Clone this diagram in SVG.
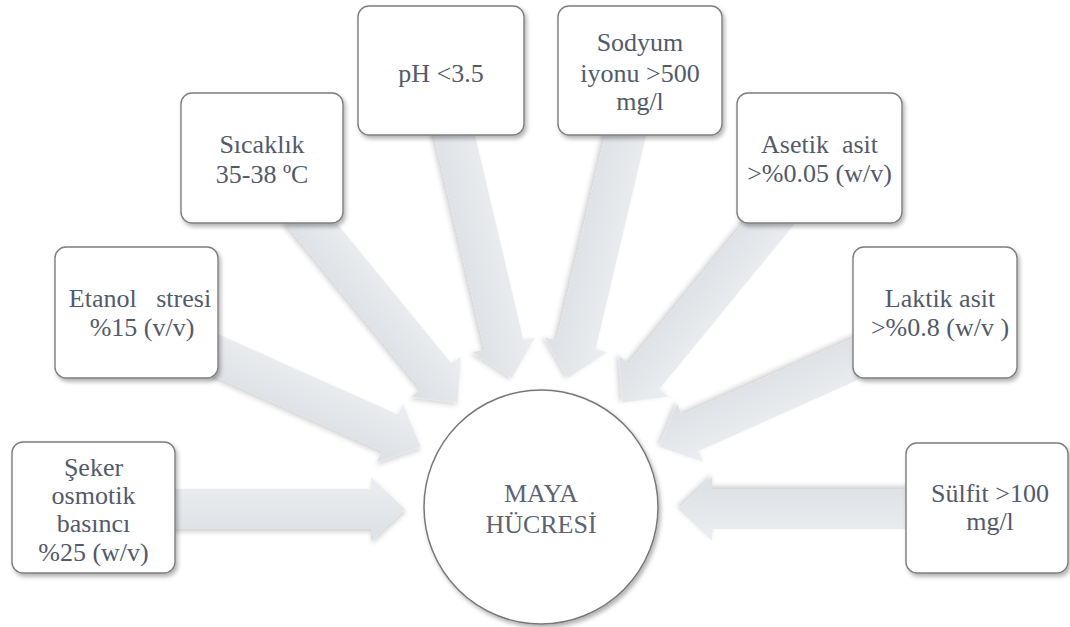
<svg xmlns="http://www.w3.org/2000/svg" width="1070" height="627" viewBox="0 0 1070 627">
<defs>
<linearGradient id="ag" x1="0" y1="0" x2="0" y2="1">
<stop offset="0" stop-color="#eceef1"/>
<stop offset="1" stop-color="#dcdfe3"/>
</linearGradient>
<filter id="sh" x="-20%" y="-20%" width="140%" height="140%">
<feDropShadow dx="2" dy="3" stdDeviation="2" flood-color="#000" flood-opacity="0.3"/>
</filter>
<filter id="ash" x="-20%" y="-40%" width="140%" height="180%">
<feDropShadow dx="1" dy="3" stdDeviation="2.5" flood-color="#000" flood-opacity="0.18"/>
</filter>
</defs>
<style>
.box{fill:#fff;stroke:#7e7e7e;stroke-width:1.4;filter:url(#sh)}
.arr{fill:url(#ag);filter:url(#ash)}
text{font-family:'Liberation Serif','Times New Roman',serif;font-size:26px;fill:#525a6b;text-anchor:middle;white-space:pre}
.c{fill:#fff;stroke:#777;stroke-width:1.5;filter:url(#sh)}
</style>
<rect width="1070" height="627" fill="#fff"/>
<g id="connectors">
<path class="arr" transform="translate(170,509)" d="M0,-20 H201 V-32 L235,0 L201,32 V20 H0 Z"/>
<path class="arr" transform="translate(910,509) rotate(180)" d="M0,-20 H198 V-32 L232,0 L198,32 V20 H0 Z"/>
<path class="arr" transform="translate(200,348) rotate(24.1)" d="M0,-20 H208 V-32 L242,0 L208,32 V20 H0 Z"/>
<path class="arr" transform="translate(880,348) rotate(155.9)" d="M0,-20 H208 V-32 L242,0 L208,32 V20 H0 Z"/>
<path class="arr" transform="translate(300,210) rotate(50.7)" d="M0,-20 H215 V-32 L249,0 L215,32 V20 H0 Z"/>
<path class="arr" transform="translate(780,210) rotate(129.3)" d="M0,-20 H215 V-32 L249,0 L215,32 V20 H0 Z"/>
<path class="arr" transform="translate(452,125) rotate(76.7)" d="M0,-20 H226 V-32 L260,0 L226,32 V20 H0 Z"/>
<path class="arr" transform="translate(628,125) rotate(103.3)" d="M0,-20 H226 V-32 L260,0 L226,32 V20 H0 Z"/>
</g>
<g id="seker">
<rect class="box" x="12" y="442" width="163" height="131" rx="11"/>
<text x="93.5" y="476">Şeker</text>
<text x="93.5" y="504">osmotik</text>
<text x="93.5" y="532">basıncı</text>
<text x="93.5" y="561">%25 (w/v)</text>
</g>
<g id="etanol">
<rect class="box" x="55" y="247" width="163" height="131" rx="11"/>
<text x="140" y="307">Etanol   stresi</text>
<text x="142" y="336">%15 (v/v)</text>
</g>
<g id="sicaklik">
<rect class="box" x="181" y="93" width="162" height="130" rx="11"/>
<text x="262" y="153">Sıcaklık</text>
<text x="262" y="183">35-38 ºC</text>
</g>
<g id="ph">
<rect class="box" x="358" y="6" width="166" height="129" rx="11"/>
<text x="441" y="82">pH &lt;3.5</text>
</g>
<g id="sodyum">
<rect class="box" x="558" y="6" width="164" height="129" rx="11"/>
<text x="640" y="51">Sodyum</text>
<text x="640" y="82">iyonu &gt;500</text>
<text x="640" y="110">mg/l</text>
</g>
<g id="asetik">
<rect class="box" x="737" y="93" width="165" height="130" rx="11"/>
<text x="819.5" y="153">Asetik  asit</text>
<text x="819.5" y="182">&gt;%0.05 (w/v)</text>
</g>
<g id="laktik">
<rect class="box" x="853" y="247" width="164" height="131" rx="11"/>
<text x="940" y="307">Laktik asit</text>
<text x="940" y="336">&gt;%0.8 (w/v )</text>
</g>
<g id="sulfit">
<rect class="box" x="906" y="443" width="162" height="130" rx="11"/>
<text x="990" y="502">Sülfit &gt;100</text>
<text x="990" y="530">mg/l</text>
</g>
<g id="maya">
<circle class="c" cx="541" cy="507" r="117"/>
<text x="541" y="502" style="fill:#5c6373">MAYA</text>
<text x="541" y="533" style="fill:#5c6373">HÜCRESİ</text>
</g>
</svg>
